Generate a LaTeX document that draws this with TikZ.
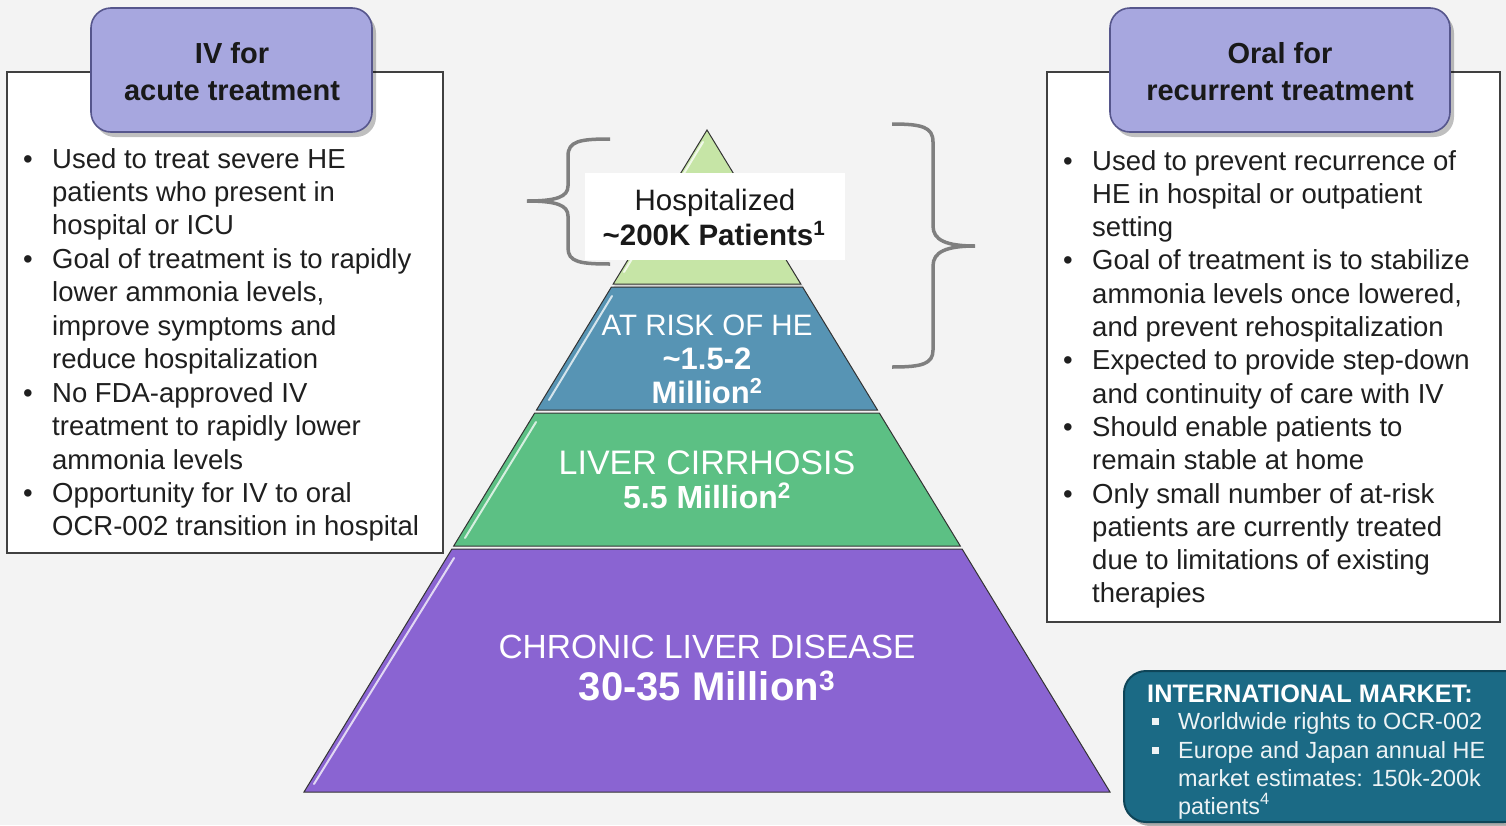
\documentclass[tikz,border=0pt]{standalone}
\usepackage{fontspec}
\setmainfont{Liberation Sans}
\definecolor{bg}{HTML}{F3F3F3}
\definecolor{hdrfill}{HTML}{A7A7DF}
\definecolor{hdrdraw}{HTML}{56568C}
\definecolor{tierA}{HTML}{C6E5A6}
\definecolor{tierB}{HTML}{5794B4}
\definecolor{tierC}{HTML}{5CC084}
\definecolor{tierD}{HTML}{8A64D2}
\definecolor{teal}{HTML}{1B6A85}
\definecolor{tealdark}{HTML}{0E4558}
\definecolor{bracegray}{HTML}{7F7F7F}
\tikzset{
  body/.style={font=\fontsize{27.5}{33}\selectfont, inner sep=0pt, text=black!88},
  hdrtxt/.style={font=\fontsize{29}{36}\selectfont\bfseries, inner sep=0pt, text=black!90},
  infobox/.style={draw=black!75, line width=1.1pt, fill=white},
  hdrbox/.style={draw=hdrdraw, line width=1.6pt, fill=hdrfill, rounded corners=20pt},
  hdrshadow/.style={fill=black, opacity=0.25, rounded corners=20pt},
  tier/.style={draw=black!80, line width=1pt},
  hilite/.style={draw=white, line width=2pt, opacity=0.75, line cap=round},
  tiertxt/.style={text=white, inner sep=0pt},
  bracestyle/.style={draw=bracegray, line width=3.5pt},
  intltxt/.style={font=\fontsize{23.4}{28}\selectfont, text=white!92!teal, inner sep=0pt},
  sq/.style={fill=white!92!teal, minimum size=7pt, inner sep=0pt},
}
\begin{document}
\begin{tikzpicture}[x=1pt,y=-1pt]
\useasboundingbox (0,0) rectangle (1506,825);
\clip (0,0) rectangle (1506,825);
\fill[bg] (0,0) rectangle (1506,825);

% ---------- left box ----------
\draw[infobox] (7,72) rectangle (443,553);
\fill[hdrshadow] (95,13) rectangle (376,137);
\draw[hdrbox] (91,8) rectangle (372,132);
\node[hdrtxt, anchor=base] (lh1) at (232,63) {IV for};
\node[hdrtxt, anchor=base] (lh2) at (232,100) {acute treatment};

\foreach \t [count=\i from 0] in {
  Used to treat severe HE,
  patients who present in,
  hospital or ICU,
  Goal of treatment is to rapidly,
  {lower ammonia levels,},
  improve symptoms and,
  reduce hospitalization,
  No FDA-approved IV,
  treatment to rapidly lower,
  ammonia levels,
  Opportunity for IV to oral,
  OCR-002 transition in hospital}
  \node[body, anchor=base west] (L\i) at (52,{168+33.45*\i}) {\t};
\foreach \i in {0,3,7,10}
  \node[body, anchor=base] (LB\i) at (28,{168+33.45*\i}) {•};

% ---------- right box ----------
\draw[infobox] (1047,72) rectangle (1500,622);
\fill[hdrshadow] (1114,13) rectangle (1454,137);
\draw[hdrbox] (1110,8) rectangle (1450,132);
\node[hdrtxt, anchor=base] (rh1) at (1280,63) {Oral for};
\node[hdrtxt, anchor=base] (rh2) at (1280,100) {recurrent treatment};

\foreach \t [count=\i from 0] in {
  Used to prevent recurrence of,
  HE in hospital or outpatient,
  setting,
  Goal of treatment is to stabilize,
  {ammonia levels once lowered,},
  and prevent rehospitalization,
  Expected to provide step-down,
  and continuity of care with IV,
  Should enable patients to,
  remain stable at home,
  Only small number of at-risk,
  patients are currently treated,
  due to limitations of existing,
  therapies}
  \node[body, anchor=base west] (R\i) at (1092,{170+33.3*\i}) {\t};
\foreach \i in {0,3,6,8,10}
  \node[body, anchor=base] (RB\i) at (1068,{170+33.3*\i}) {•};

% ---------- pyramid ----------
\fill[black, opacity=0.12] (709,134) -- (804,288) -- (613,288) -- cycle;
\draw[tier, fill=tierA] (707,130) -- (800.8,284) -- (613.2,284) -- cycle;
\draw[tier, fill=tierB] (611.4,287) -- (802.6,287) -- (877.5,410) -- (536.5,410) -- cycle;
\draw[tier, fill=tierC] (534.7,413) -- (879.3,413) -- (960.3,546) -- (453.7,546) -- cycle;
\draw[tier, fill=tierD] (451.9,549) -- (962.1,549) -- (1110,792) -- (304,792) -- cycle;
\draw[hilite] (703,142) -- (624,272);
\draw[hilite] (612,296) -- (549,400);
\draw[hilite] (536,422) -- (465,538);
\draw[hilite] (454,558) -- (314,784);

\node[tiertxt, anchor=base, font=\fontsize{29.5}{34}\selectfont] (t1) at (707,335) {AT RISK OF HE};
\node[tiertxt, anchor=base, font=\fontsize{31}{34}\selectfont\bfseries] (t2) at (707,369) {\char`\~1.5-2};
\node[tiertxt, anchor=base, font=\fontsize{31}{34}\selectfont\bfseries] (t3) at (707,403) {Million\textsuperscript{2}};
\node[tiertxt, anchor=base, font=\fontsize{34}{38}\selectfont] (t4) at (707,474) {LIVER CIRRHOSIS};
\node[tiertxt, anchor=base, font=\fontsize{32}{38}\selectfont\bfseries] (t5) at (707,508) {5.5 Million\textsuperscript{2}};
\node[tiertxt, anchor=base, font=\fontsize{33.5}{38}\selectfont] (t6) at (707,658) {CHRONIC LIVER DISEASE};
\node[tiertxt, anchor=base, font=\fontsize{40}{44}\selectfont\bfseries] (t7) at (707,700) {30-35 Million\textsuperscript{3}};

% ---------- hospitalized label ----------
\fill[white] (585,173) rectangle (845,260);
\node[anchor=base, inner sep=0pt, font=\fontsize{29.5}{34}\selectfont, text=black!90] (h1) at (715,210) {Hospitalized};
\node[anchor=base, inner sep=0pt, font=\fontsize{29.5}{34}\selectfont\bfseries, text=black!90] (h2) at (714,245) {\char`\~200K Patients\textsuperscript{1}};

% ---------- braces ----------
\draw[bracestyle] (610,139) .. controls (580,139) and (568,141) .. (568,156)
  -- (568,186) .. controls (568,197) and (556,201) .. (527,201)
  .. controls (556,201) and (568,205) .. (568,216)
  -- (568,248) .. controls (568,262) and (580,264) .. (610,264);
\draw[bracestyle] (892,124) .. controls (922,124) and (933,127) .. (933,142)
  -- (933,226) .. controls (933,240) and (946,246) .. (975,246)
  .. controls (946,246) and (933,252) .. (933,266)
  -- (933,350) .. controls (933,364) and (922,367) .. (892,367);

% ---------- international market ----------
\fill[black, opacity=0.3, rounded corners=22pt] (1128,675) rectangle (1530,826);
\draw[fill=teal, draw=tealdark, line width=2pt, rounded corners=22pt] (1124,671) rectangle (1526,822);
\node[anchor=base west, inner sep=0pt, font=\fontsize{25.3}{30}\selectfont\bfseries, text=white] (i0) at (1147,702) {INTERNATIONAL MARKET:};
\node[intltxt, anchor=base west] (i1) at (1178,729) {Worldwide rights to OCR-002};
\node[intltxt, anchor=base west] (i2) at (1178,758) {Europe and Japan annual HE};
\node[intltxt, anchor=base west] (i3) at (1178,786) {market estimates: 150k-200k};
\node[intltxt, anchor=base west] (i4) at (1178,814) {patients\textsuperscript{4}};
\node[sq] (ib1) at (1155,721) {};
\node[sq] (ib2) at (1155,750) {};
\end{tikzpicture}
\end{document}
